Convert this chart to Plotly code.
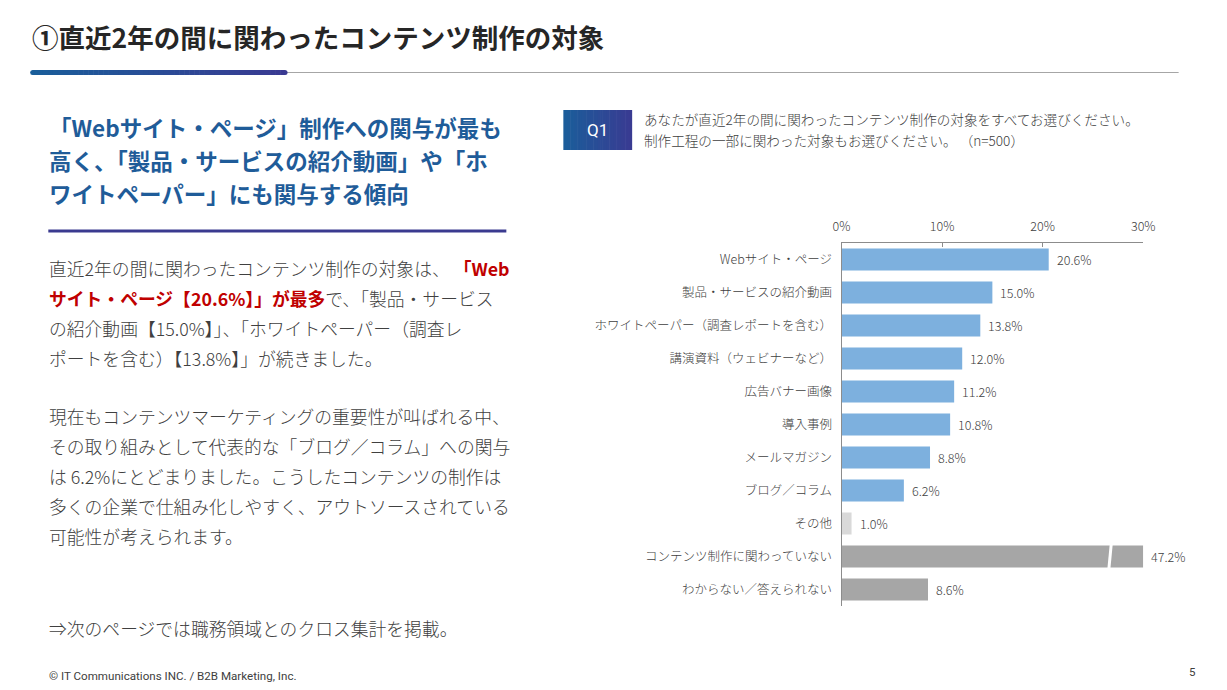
import plotly.graph_objects as go

W, H = 1227, 690

# ---------------- data ----------------
categories = [
    "Webサイト・ページ",
    "製品・サービスの紹介動画",
    "ホワイトペーパー（調査レポートを含む）",
    "講演資料（ウェビナーなど）",
    "広告バナー画像",
    "導入事例",
    "メールマガジン",
    "ブログ／コラム",
    "その他",
    "コンテンツ制作に関わっていない",
    "わからない／答えられない",
]
values = [20.6, 15.0, 13.8, 12.0, 11.2, 10.8, 8.8, 6.2, 1.0, 47.2, 8.6]
groups = ["content"] * 8 + ["other", "none", "none"]
tick_values = [0, 10, 20, 30]
tick_labels = ["0%", "10%", "20%", "30%"]

AXIS_MAX = 30
group_colors = {"content": "#7DB0DE", "other": "#D9D9D9", "none": "#A6A6A6"}

JP = "Noto Sans CJK JP"
BODY = "#404040"
BLUE = "#1F5C99"
RED = "#C00000"


def px(x):
    return x / W


def py(y):
    return 1 - y / H


def hexrgb(h):
    h = h.lstrip("#")
    return tuple(int(h[i:i + 2], 16) for i in (0, 2, 4))


def mix(c0, c1, t):
    a, b = hexrgb(c0), hexrgb(c1)
    return "rgb(%d,%d,%d)" % tuple(round(a[i] + (b[i] - a[i]) * t) for i in range(3))


shapes = []
annotations = []


def grad_rect(x0, x1, y0, y1, c0, c1, n=40):
    step = (x1 - x0) / n
    for i in range(n):
        xa = x0 + i * step
        xb = min(x1, xa + step + 0.6)
        shapes.append(dict(type="rect", xref="paper", yref="paper",
                           x0=px(xa), x1=px(xb), y0=py(y0), y1=py(y1),
                           fillcolor=mix(c0, c1, (i + 0.5) / n), line=dict(width=0),
                           layer="above"))


def text(x, y, s, size, color=BODY, bold=False, anchor="left", family=JP, weight=None):
    f = dict(family=family, size=size, color=color)
    if weight is not None:
        f["weight"] = weight
    annotations.append(dict(xref="paper", yref="paper", x=px(x), y=py(y),
                            xanchor=anchor, yanchor="middle", showarrow=False,
                            text=("<b>%s</b>" % s) if bold else s,
                            font=f, borderpad=0))


# ---------------- chart ----------------
display = [min(v, AXIS_MAX) for v in values]
colors = [group_colors[g] for g in groups]

fig = go.Figure()
fig.add_trace(go.Bar(
    y=categories, x=display, orientation="h",
    marker=dict(color=colors, line=dict(width=0)),
    hoverinfo="skip", showlegend=False,
))

# value labels (+ break mark for the bar that exceeds the axis)
for cat, v, d in zip(categories, values, display):
    annotations.append(dict(xref="x", yref="y", x=d, y=cat, xanchor="left",
                            yanchor="middle", xshift=6, showarrow=False,
                            text="%.1f%%" % v,
                            font=dict(family=JP, size=12.5, color=BODY, weight=300)))
    if v > AXIS_MAX:
        idx = categories.index(cat)
        bx = AXIS_MAX * 0.89
        shapes.append(dict(type="line", xref="x", yref="y",
                           x0=bx - 0.12, x1=bx + 0.12, y0=idx + 0.38, y1=idx - 0.38,
                           line=dict(color="white", width=3), layer="above"))

# ---------------- page decoration ----------------
# title + underline
text(22, 36, "①直近2年の間に関わったコンテンツ制作の対象", 26.5, color="#262626", bold=True)
shapes.append(dict(type="line", xref="paper", yref="paper", x0=px(283), x1=px(1190),
                   y0=py(72.5), y1=py(72.5), line=dict(color="#A6A6A6", width=1)))
grad_rect(24, 281, 70, 75, "#1A5E9A", "#3A3A92", n=50)
for cx, c in ((24, "#1A5E9A"), (281, "#3A3A92")):
    shapes.append(dict(type="circle", xref="paper", yref="paper",
                       x0=px(cx - 2.5), x1=px(cx + 2.5), y0=py(70), y1=py(75),
                       fillcolor=c, line=dict(width=0), layer="above"))

# left heading
heading = [
    "「Webサイト・ページ」制作への関与が最も",
    "高く、「製品・サービスの紹介動画」や「ホ",
    "ワイトペーパー」にも関与する傾向",
]
for i, s in enumerate(heading):
    text(40, 127 + 33 * i, s, 22.5, color=BLUE, bold=True)
shapes.append(dict(type="line", xref="paper", yref="paper", x0=px(40), x1=px(506),
                   y0=py(231), y1=py(231), line=dict(color="#3A3A8F", width=3)))

# body text
body = [
    (268, "直近2年の間に関わったコンテンツ制作の対象は、 <span style='color:%s'><b>「Web</b></span>" % RED),
    (298, "<span style='color:%s'><b>サイト・ページ【20.6%%】」が最多</b></span>で、「製品・サービス" % RED),
    (328, "の紹介動画【15.0%】」、「ホワイトペーパー（調査レ"),
    (358, "ポートを含む）【13.8%】」が続きました。"),
    (416, "現在もコンテンツマーケティングの重要性が叫ばれる中、"),
    (446, "その取り組みとして代表的な「ブログ／コラム」への関与"),
    (476, "は 6.2%にとどまりました。こうしたコンテンツの制作は"),
    (506, "多くの企業で仕組み化しやすく、アウトソースされている"),
    (536, "可能性が考えられます。"),
    (628, "⇒次のページでは職務領域とのクロス集計を掲載。"),
]
for y, s in body:
    text(40, y, s, 17.8, weight=300)

# Q1 box + question
grad_rect(564, 634, 110, 150, "#1A5E9A", "#3A3A92", n=30)
text(599, 130, "Q1", 17, color="white", anchor="center", family="Roboto, " + JP)
text(645, 119, "あなたが直近2年の間に関わったコンテンツ制作の対象をすべてお選びください。", 13.6, weight=300)
text(645, 140, "制作工程の一部に関わった対象もお選びください。 （n=500）", 13.6, weight=300)

# footer
text(40, 676, "© IT Communications INC. / B2B Marketing, Inc.", 11.6,
     family="Roboto, " + JP)
text(1209, 672, "5", 11.5, anchor="right", family="Roboto, " + JP)

fig.update_layout(
    width=W, height=H,
    margin=dict(l=0, r=0, t=0, b=0),
    paper_bgcolor="white", plot_bgcolor="white",
    bargap=1 / 3,
    font=dict(family=JP, color=BODY),
    xaxis=dict(domain=[847 / W, 1154 / W], range=[0, AXIS_MAX], side="top",
               tickvals=tick_values, ticktext=tick_labels,
               ticks="inside", ticklen=4, tickcolor="#8C8C8C",
               showline=True, linecolor="#8C8C8C", linewidth=1,
               showgrid=False, zeroline=False, fixedrange=True,
               tickfont=dict(family=JP, size=12.5, color=BODY, weight=300),
               ticklabelstandoff=6),
    yaxis=dict(domain=[(H - 606) / H, (H - 243) / H],
               categoryorder="array", categoryarray=categories,
               autorange="reversed", showline=True, linecolor="#8C8C8C",
               linewidth=1, ticks="", showgrid=False, zeroline=False,
               fixedrange=True, tickfont=dict(family=JP, size=12.5, color=BODY, weight=300),
               ticklabelstandoff=6),
    shapes=shapes,
    annotations=annotations,
)

fig.write_html("out.html")
